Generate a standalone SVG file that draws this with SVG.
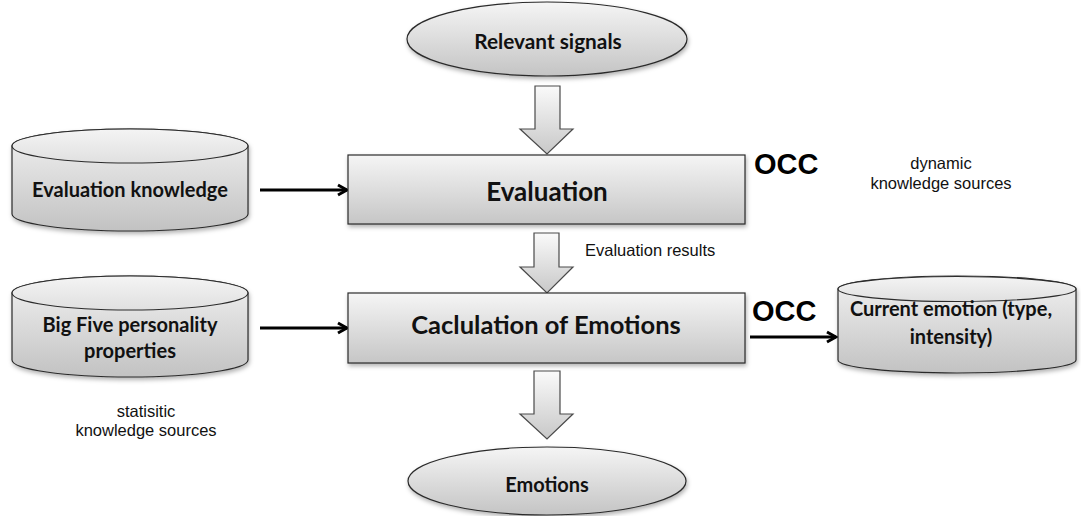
<svg xmlns="http://www.w3.org/2000/svg" width="1081" height="516" viewBox="0 0 1081 516">
  <style>
    .shape { stroke: #2b2b2b; stroke-width: 1.2; }
    .box { fill: url(#boxFill); filter: url(#shadow); }
    .cyl { fill: url(#cylFill); filter: url(#shadow); }
    .cyltop { fill: url(#topFill); stroke: #2b2b2b; stroke-width: 1.2; }
    .oval { fill: url(#ovalFill); filter: url(#shadow); }
    .block { fill: url(#arrowFill); stroke: #4a4a4a; stroke-width: 1.2; }
    .title { font-family: Lato, "Open Sans", sans-serif; font-weight: bold; fill: #111; text-anchor: middle; }
    .note { font-family: "Liberation Sans", Arial, sans-serif; fill: #111; font-size: 16.5px; }
    .occ { font-family: "Liberation Sans", Arial, sans-serif; font-weight: bold; fill: #000; font-size: 29px; }
    .link { stroke: #000; stroke-width: 3; fill: none; marker-end: url(#head); }
  </style>
  <defs>
    <linearGradient id="boxFill" x1="0" y1="0" x2="0" y2="1">
      <stop offset="0" stop-color="#f5f5f5"/>
      <stop offset="1" stop-color="#c6c6c6"/>
    </linearGradient>
    <linearGradient id="cylFill" x1="0" y1="0" x2="0" y2="1">
      <stop offset="0" stop-color="#f2f2f2"/>
      <stop offset="1" stop-color="#c2c2c2"/>
    </linearGradient>
    <linearGradient id="topFill" x1="0" y1="0" x2="0" y2="1">
      <stop offset="0" stop-color="#f4f4f4"/>
      <stop offset="1" stop-color="#e0e0e0"/>
    </linearGradient>
    <linearGradient id="ovalFill" x1="0" y1="0" x2="0" y2="1">
      <stop offset="0" stop-color="#f5f5f5"/>
      <stop offset="1" stop-color="#c4c4c4"/>
    </linearGradient>
    <linearGradient id="arrowFill" x1="0" y1="0" x2="0" y2="1">
      <stop offset="0" stop-color="#fafafa"/>
      <stop offset="1" stop-color="#c8c8c8"/>
    </linearGradient>
    <filter id="shadow" x="-10%" y="-10%" width="125%" height="135%">
      <feDropShadow dx="1" dy="2.5" stdDeviation="2" flood-color="#000" flood-opacity="0.3"/>
    </filter>
    <marker id="head" viewBox="0 0 14 14" refX="12" refY="7" markerWidth="14" markerHeight="14" markerUnits="userSpaceOnUse" orient="auto">
      <polyline points="3,2 12,7 3,12" fill="none" stroke="#000" stroke-width="3" stroke-linejoin="miter"/>
    </marker>
  </defs>

  <!-- connectors -->
  <g id="connectors">
    <line class="link" x1="260" y1="190" x2="347" y2="190"/>
    <line class="link" x1="260" y1="328" x2="347" y2="328"/>
    <line class="link" x1="750" y1="337" x2="836" y2="337"/>
    <path class="block" d="M535,86 H560 V129 H573 L547,154 L520,129 H535 Z"/>
    <path class="block" d="M534,233 H559 V267 H573 L547,293 L520,267 H534 Z"/>
    <path class="block" d="M534,371 H560 V414 H573 L547,439 L520,414 H534 Z"/>
  </g>

  <g id="relevant-signals">
    <ellipse class="oval shape" cx="547" cy="39" rx="140" ry="37"/>
    <text class="title" x="548" y="49" font-size="20.8">Relevant signals</text>
  </g>

  <g id="evaluation">
    <rect class="box shape" x="348" y="155" width="397" height="69"/>
    <text class="title" x="547" y="201" font-size="26">Evaluation</text>
    <text class="occ" x="754" y="174">OCC</text>
  </g>

  <g id="evaluation-results-label">
    <text class="note" x="585" y="256">Evaluation results</text>
  </g>

  <g id="calculation">
    <rect class="box shape" x="348" y="293" width="397" height="70"/>
    <text class="title" x="546" y="334" font-size="25.5">Caclulation of Emotions</text>
    <text class="occ" x="752" y="321">OCC</text>
  </g>

  <g id="evaluation-knowledge">
    <path class="cyl shape" d="M12,146 V214 A118,17 0 0 0 248,214 V146 A118,17 0 0 0 12,146 Z"/>
    <ellipse class="cyltop" cx="130" cy="146" rx="118" ry="17"/>
    <text class="title" x="130" y="197" font-size="20">Evaluation knowledge</text>
  </g>

  <g id="big-five">
    <path class="cyl shape" d="M12,293 V360 A118,17 0 0 0 248,360 V293 A118,17 0 0 0 12,293 Z"/>
    <ellipse class="cyltop" cx="130" cy="293" rx="118" ry="17"/>
    <text class="title" x="130" y="332" font-size="20">Big Five personality</text>
    <text class="title" x="130" y="358" font-size="20">properties</text>
  </g>

  <g id="current-emotion">
    <path class="cyl shape" d="M838,289 V360 A119,13 0 0 0 1076,360 V289 A119,13 0 0 0 838,289 Z"/>
    <ellipse class="cyltop" cx="957" cy="289" rx="119" ry="12.5"/>
    <text class="title" x="951" y="316" font-size="20">Current emotion (type,</text>
    <text class="title" x="951" y="344" font-size="20">intensity)</text>
  </g>

  <g id="emotions">
    <ellipse class="oval shape" cx="547" cy="481" rx="139" ry="34"/>
    <text class="title" x="547" y="492" font-size="20">Emotions</text>
  </g>

  <g id="dynamic-sources">
    <text class="note" x="941" y="169" text-anchor="middle">dynamic</text>
    <text class="note" x="941" y="189" text-anchor="middle">knowledge sources</text>
  </g>

  <g id="static-sources">
    <text class="note" x="146" y="417" text-anchor="middle">statisitic</text>
    <text class="note" x="146" y="436" text-anchor="middle">knowledge sources</text>
  </g>
</svg>
